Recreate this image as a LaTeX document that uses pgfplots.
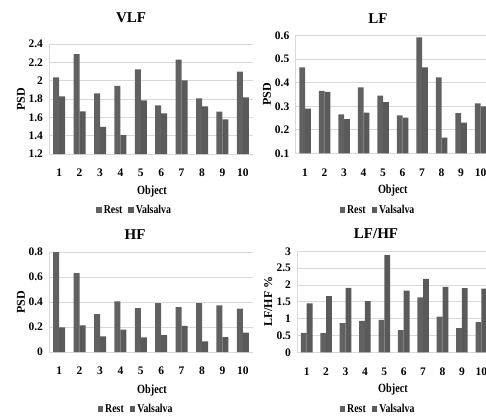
\documentclass[border=0pt]{standalone}
\usepackage{fontspec}
\setmainfont{Liberation Serif}
\newfontfamily\condensed{Liberation Serif Bold}[FakeStretch=0.82]
\usepackage{pgfplots}
\pgfplotsset{compat=1.18}
\definecolor{restc}{HTML}{616161}
\definecolor{valc}{HTML}{5A5A5A}
\definecolor{gridc}{HTML}{D9D9D9}
\pgfplotsset{
  panel/.style={
    scale only axis, width=204pt,
    ybar=0pt, bar width=6pt,
    xmin=0.5, xmax=10.5,
    xtick={1,...,10},
    axis x line*=bottom, axis y line*=left,
    axis line style={gridc, line width=0.8pt},
    major tick length=0pt,
    ymajorgrids, grid style={gridc, line width=0.8pt},
    /pgf/number format/assume math mode=true,
    tick label style={font=\bfseries\fontsize{11.5}{13}\selectfont, text=black},
    x tick label style={anchor=center, yshift=-19pt},
    y tick label style={xshift=-2.5pt},
    ylabel style={font=\bfseries\fontsize{12}{13}\selectfont},
    xlabel style={font=\condensed\fontsize{12.5}{13}\selectfont},
    xlabel={Object},
    legend style={draw=none, fill=none, legend columns=2, anchor=center,
      font=\condensed\fontsize{12}{13}\selectfont,
      /tikz/every even column/.append style={column sep=4pt}},
    clip=false,
  },
  restbar/.style={fill=restc, draw=none, legend image code/.code={\fill[restc] (0pt,-3pt) rectangle (5.5pt,3pt);}},
  valbar/.style={fill=valc, draw=none, legend image code/.code={\fill[valc] (0pt,-3pt) rectangle (5.5pt,3pt);}},
}
\begin{document}
\begin{tikzpicture}[x=1pt,y=1pt]
\useasboundingbox (0,0) rectangle (486,416);
\clip (0,0) rectangle (486,416);
\fill[white] (0,0) rectangle (486,416);
% VLF
\begin{axis}[panel, at={(49pt,262pt)}, anchor=south west, height=110pt,
  ymin=1.2, ymax=2.4, ytick={1.2,1.4,...,2.4},
  yticklabel style={/pgf/number format/fixed},
  ylabel={PSD},
  ylabel style={at={(axis description cs:-0.137,0.5)}, anchor=center},
  xlabel style={at={(axis description cs:0.505,-0.345)}, anchor=center},
  legend style={at={(axis description cs:0.42,-0.509)}}]
\addplot[restbar] coordinates {(1,2.035) (2,2.29) (3,1.862) (4,1.942) (5,2.124) (6,1.731) (7,2.229) (8,1.807) (9,1.662) (10,2.098)};
\addplot[valbar] coordinates {(1,1.83) (2,1.665) (3,1.495) (4,1.407) (5,1.785) (6,1.644) (7,2.004) (8,1.72) (9,1.578) (10,1.818)};
\legend{Rest,Valsalva}
\end{axis}
% LF
\begin{axis}[panel, at={(295.3pt,262.7pt)}, anchor=south west, height=117.6pt, width=195pt, bar width=5.8pt,
  ymin=0.1, ymax=0.6, ytick={0.1,0.2,...,0.6},
  yticklabel style={/pgf/number format/.cd, fixed, fixed zerofill, precision=1},
  ylabel={PSD},
  ylabel style={at={(axis description cs:-0.145,0.5)}, anchor=center},
  xlabel style={at={(axis description cs:0.50,-0.32)}, anchor=center},
  legend style={at={(axis description cs:0.424,-0.482)}}]
\addplot[restbar] coordinates {(1,0.465) (2,0.365) (3,0.266) (4,0.38) (5,0.345) (6,0.261) (7,0.593) (8,0.423) (9,0.271) (10,0.312)};
\addplot[valbar] coordinates {(1,0.29) (2,0.361) (3,0.245) (4,0.273) (5,0.318) (6,0.252) (7,0.465) (8,0.167) (9,0.23) (10,0.30)};
\legend{Rest,Valsalva}
\end{axis}
% HF
\begin{axis}[panel, at={(49pt,64pt)}, anchor=south west, height=100pt,
  ymin=0, ymax=0.8, ytick={0,0.2,...,0.8},
  yticklabel style={/pgf/number format/fixed},
  ylabel={PSD},
  ylabel style={at={(axis description cs:-0.137,0.5)}, anchor=center},
  xlabel style={at={(axis description cs:0.505,-0.38)}, anchor=center},
  legend style={at={(axis description cs:0.427,-0.57)}}]
\addplot[restbar] coordinates {(1,0.80) (2,0.632) (3,0.304) (4,0.405) (5,0.352) (6,0.392) (7,0.36) (8,0.392) (9,0.373) (10,0.347)};
\addplot[valbar] coordinates {(1,0.197) (2,0.213) (3,0.125) (4,0.179) (5,0.117) (6,0.136) (7,0.21) (8,0.085) (9,0.12) (10,0.155)};
\legend{Rest,Valsalva}
\end{axis}
% LF/HF
\begin{axis}[panel, at={(297pt,63.7pt)}, anchor=south west, height=101pt, width=194pt, bar width=5.8pt,
  ymin=0, ymax=3, ytick={0,0.5,...,3},
  yticklabel style={/pgf/number format/fixed},
  ylabel={LF/HF \%},
  ylabel style={at={(axis description cs:-0.149,0.5)}, anchor=center},
  xlabel style={at={(axis description cs:0.495,-0.373)}, anchor=center},
  legend style={at={(axis description cs:0.418,-0.561)}}]
\addplot[restbar] coordinates {(1,0.58) (2,0.57) (3,0.87) (4,0.93) (5,0.96) (6,0.66) (7,1.63) (8,1.06) (9,0.72) (10,0.90)};
\addplot[valbar] coordinates {(1,1.45) (2,1.67) (3,1.915) (4,1.52) (5,2.89) (6,1.83) (7,2.18) (8,1.94) (9,1.905) (10,1.895)};
\legend{Rest,Valsalva}
\end{axis}
% titles
\node[font=\bfseries\fontsize{15}{17}\selectfont] at (131,398) {VLF};
\node[font=\bfseries\fontsize{15}{17}\selectfont] at (378,397) {LF};
\node[font=\bfseries\fontsize{15}{17}\selectfont] at (135,181) {HF};
\node[font=\bfseries\fontsize{15}{17}\selectfont] at (376,182) {LF/HF};
\end{tikzpicture}
\end{document}
